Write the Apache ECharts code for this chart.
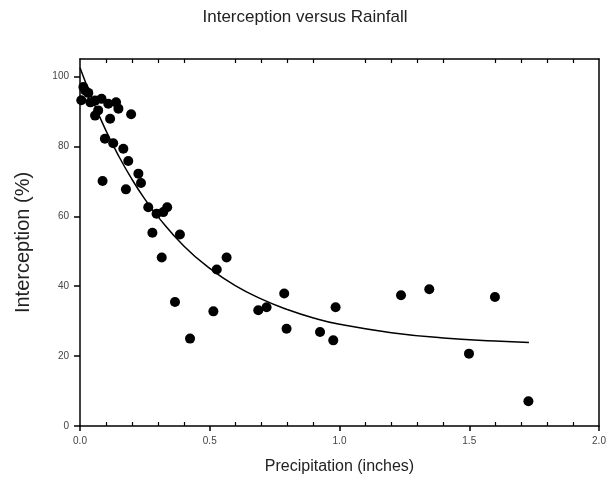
<!DOCTYPE html>
<html>
<head>
<meta charset="utf-8">
<script src="https://cdn.jsdelivr.net/npm/echarts@6/dist/echarts.min.js"></script>
<style>
html,body{margin:0;padding:0;background:#fff;}
#chart{width:610px;height:490px;}
</style>
</head>
<body>
<div id="chart"></div>
<script>
// Observed data points (precipitation in inches, interception in %)
const precipX = [0.005,0.013,0.02,0.032,0.04,0.058,0.083,0.058,0.07,0.116,0.109,0.139,0.148,0.197,0.096,0.128,0.167,0.186,0.087,0.177,0.225,0.235,0.263,0.295,0.321,0.336,0.279,0.385,0.315,0.366,0.424,0.514,0.527,0.565,0.687,0.719,0.787,0.796,0.925,0.976,0.985,1.237,1.346,1.499,1.599,1.728];
const interceptionY = [93.2,97.0,96.0,95.3,92.6,93.1,93.6,88.8,90.3,87.9,92.2,92.6,90.8,89.2,82.2,80.9,79.3,75.8,70.1,67.7,72.2,69.5,62.6,60.7,61.2,62.6,55.3,54.8,48.2,35.5,25.0,32.8,44.8,48.2,33.1,34.0,37.9,27.8,26.9,24.5,34.0,37.4,39.1,20.7,36.9,7.1];
// Fitted curve
const fitX = [0,0.05,0.1,0.15,0.2,0.25,0.3,0.4,0.5,0.6,0.7,0.8,0.9,1.0,1.2,1.4,1.6,1.73];
const fitY = [102.5,93.0,84.5,77.1,70.6,64.9,59.9,51.5,45.1,40.1,36.3,33.3,30.9,29.1,26.7,25.2,24.3,23.9];
const xTicks = ['0.0','0.5','1.0','1.5','2.0'];
const yTicks = ['0','20','40','60','80','100'];

const chart = echarts.init(document.getElementById('chart'));
const font = 'Liberation Sans, Arial, sans-serif';
const axisLine = {show:true, onZero:false, lineStyle:{color:'#000', width:1.5}};
chart.setOption({
  animation:false,
  backgroundColor:'#fff',
  title:{
    text:'Interception versus Rainfall',
    left:'center', top:4,
    textStyle:{fontFamily:font, fontSize:17, fontWeight:'normal', color:'#222'}
  },
  grid:{left:80, right:11, top:59, bottom:64},
  xAxis:[
    {type:'value', min:0, max:2, interval:0.5, position:'bottom',
     axisLine:axisLine,
     axisTick:{show:true, inside:false, length:5, lineStyle:{color:'#000', width:1.5}},
     axisLabel:{margin:10, fontFamily:font, fontSize:10, color:'#444',
       formatter:function(v){ const i=Math.round(v/0.5); return xTicks[i]!==undefined?xTicks[i]:''; }},
     splitLine:{show:false},
     name:'Precipitation (inches)', nameLocation:'middle', nameGap:33,
     nameTextStyle:{fontFamily:font, fontSize:16, color:'#222'}},
    {type:'value', min:0, max:2, interval:0.5, position:'bottom',
     axisLine:{show:false, onZero:false},
     axisTick:{show:false, inside:true},
     minorTick:{show:true, splitNumber:5, length:4, lineStyle:{color:'#000', width:1.2}},
     axisLabel:{show:false}, splitLine:{show:false}},
    {type:'value', min:0, max:2, interval:0.5, position:'top',
     axisLine:axisLine,
     axisTick:{show:false, inside:true},
     minorTick:{show:true, splitNumber:5, length:4, lineStyle:{color:'#000', width:1.2}},
     axisLabel:{show:false}, splitLine:{show:false}}
  ],
  yAxis:[
    {type:'value', min:0, max:105, interval:20, position:'left',
     axisLine:axisLine,
     axisTick:{show:true, inside:false, length:6, lineStyle:{color:'#000', width:1.5}},
     axisLabel:{margin:11, fontFamily:font, fontSize:10, color:'#444', showMaxLabel:false,
       formatter:function(v){ const i=Math.round(v/20); return (v%20===0 && yTicks[i]!==undefined)?yTicks[i]:''; }},
     splitLine:{show:false},
     name:'Interception (%)', nameLocation:'middle', nameGap:47,
     nameTextStyle:{fontFamily:font, fontSize:20, color:'#222'}},
    {type:'value', min:0, max:105, interval:20, position:'right',
     axisLine:axisLine, axisTick:{show:false}, axisLabel:{show:false}, splitLine:{show:false}}
  ],
  series:[
    {type:'line', xAxisIndex:0, yAxisIndex:0, smooth:true, showSymbol:false, symbol:'none',
     lineStyle:{color:'#000', width:1.5},
     data:fitX.map((x,i)=>[x, fitY[i]]), z:2},
    {type:'scatter', xAxisIndex:0, yAxisIndex:0, symbol:'circle', symbolSize:10,
     itemStyle:{color:'#000', opacity:1},
     data:precipX.map((x,i)=>[x, interceptionY[i]]), z:3}
  ]
});
</script>
</body>
</html>
